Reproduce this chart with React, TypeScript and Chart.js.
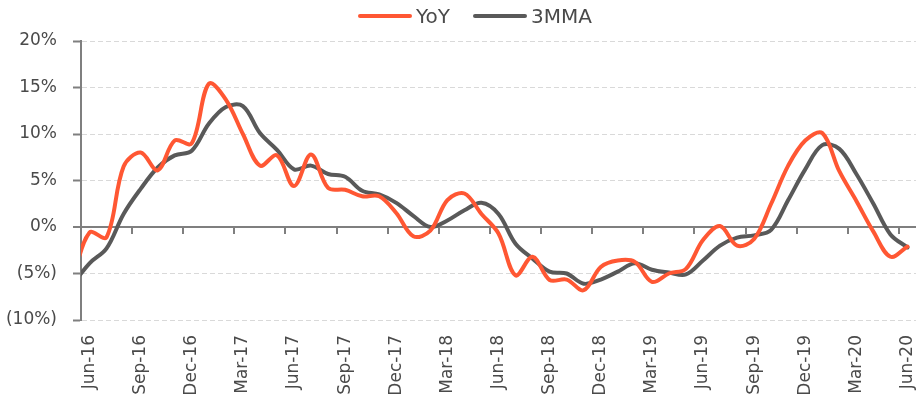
import React, { useEffect, useRef } from 'react';
import { Chart, registerables } from 'chart.js';

Chart.register(...registerables);

// Months: May-16 is a lead-in month drawn only as the clipped segment at the left edge
const months = [
  'May-16', 'Jun-16', 'Jul-16', 'Aug-16', 'Sep-16', 'Oct-16', 'Nov-16', 'Dec-16',
  'Jan-17', 'Feb-17', 'Mar-17', 'Apr-17', 'May-17', 'Jun-17', 'Jul-17', 'Aug-17',
  'Sep-17', 'Oct-17', 'Nov-17', 'Dec-17', 'Jan-18', 'Feb-18', 'Mar-18', 'Apr-18',
  'May-18', 'Jun-18', 'Jul-18', 'Aug-18', 'Sep-18', 'Oct-18', 'Nov-18', 'Dec-18',
  'Jan-19', 'Feb-19', 'Mar-19', 'Apr-19', 'May-19', 'Jun-19', 'Jul-19', 'Aug-19',
  'Sep-19', 'Oct-19', 'Nov-19', 'Dec-19', 'Jan-20', 'Feb-20', 'Mar-20', 'Apr-20',
  'May-20', 'Jun-20',
];
const firstLabelled = 'Jun-16';

const yoy = [
  -5.6, -0.6, -1.1, 6.5, 8.0, 6.1, 9.3, 9.0,
  15.4, 13.7, 10.0, 6.6, 7.7, 4.4, 7.8, 4.2,
  4.0, 3.3, 3.3, 1.5, -1.0, -0.4, 2.9, 3.6,
  1.4, -0.7, -5.2, -3.2, -5.7, -5.65, -6.8, -4.3,
  -3.6, -3.75, -5.9, -5.0, -4.5, -1.4, 0.1, -2.0,
  -1.3, 2.5, 6.6, 9.3, 10.1, 6.0, 2.8, -0.5,
  -3.2, -2.1,
];

const mma3 = [
  -6.2, -3.9, -2.3, 1.4, 4.1, 6.4, 7.7, 8.2,
  11.1, 12.9, 13.0, 10.1, 8.3, 6.2, 6.6, 5.7,
  5.4, 3.9, 3.5, 2.6, 1.2, 0.0, 0.7, 1.8,
  2.6, 1.4, -1.8, -3.4, -4.8, -5.0, -6.1, -5.65,
  -4.8, -3.9, -4.6, -4.9, -5.1, -3.6, -2.0, -1.15,
  -0.9, -0.3, 2.9, 6.2, 8.8, 8.4, 5.7, 2.5,
  -0.8, -2.2,
];

const seriesNames = ['YoY', '3MMA'];
const seriesColors = ['#FF5733', '#595959'];

const yMin = -10;
const yMax = 20;
const yStep = 5;
const xLabelEvery = 3;

const AXIS = '#7F7F7F';
const GRID = '#D9D9D9';
const TEXT = '#4A4A4A';
const FONT = '"DejaVu Sans", sans-serif';

const formatPct = (v: number) => (v < 0 ? `(${-v}%)` : `${v}%`);

const boundaryMarks = {
  id: 'boundaryMarks',
  beforeDatasetsDraw(chart: any) {
    const { ctx, scales } = chart;
    const x = scales.x;
    const y = scales.y;
    const y0 = y.getPixelForValue(0);
    ctx.save();
    ctx.strokeStyle = AXIS;
    ctx.lineWidth = 2;
    ctx.beginPath();
    x.ticks.forEach((t: any, i: number) => {
      if (i === 0) return;
      const px = Math.round(x.getPixelForValue(t.value - 0.5));
      ctx.moveTo(px, y0);
      ctx.lineTo(px, y0 + 7);
    });
    ctx.stroke();
    ctx.restore();
  },
};

export default function App() {
  const ref = useRef<HTMLCanvasElement | null>(null);

  useEffect(() => {
    if (!ref.current) return;
    const offset = months.indexOf(firstLabelled);
    const toPoints = (vals: number[]) => vals.map((v, i) => ({ x: i - offset, y: v }));

    const chart = new Chart(ref.current, {
      type: 'line',
      data: {
        datasets: [
          {
            label: seriesNames[0],
            data: toPoints(yoy),
            borderColor: seriesColors[0],
            backgroundColor: seriesColors[0],
            borderWidth: 4,
            pointRadius: 0,
            tension: 0.35,
            borderCapStyle: 'round',
            borderJoinStyle: 'round',
          },
          {
            label: seriesNames[1],
            data: toPoints(mma3),
            borderColor: seriesColors[1],
            backgroundColor: seriesColors[1],
            borderWidth: 4,
            pointRadius: 0,
            tension: 0.35,
            borderCapStyle: 'round',
            borderJoinStyle: 'round',
          },
        ],
      },
      options: {
        animation: false,
        responsive: false,
        events: [],
        layout: { padding: { top: 41, right: 1, left: 0, bottom: 0 } },
        plugins: {
          legend: { display: false },
          tooltip: { enabled: false },
        },
        scales: {
          x: {
            type: 'linear',
            min: -0.5,
            max: months.length - offset - 0.5,
            grid: { display: false, drawTicks: false },
            border: { display: false },
            ticks: {
              stepSize: xLabelEvery,
              includeBounds: false,
              autoSkip: false,
              maxRotation: 90,
              minRotation: 90,
              padding: 15,
              color: TEXT,
              font: { family: FONT, size: 17 },
              callback: (v: any) => {
                const idx = Number(v) + offset;
                return Number.isInteger(Number(v)) && months[idx] ? months[idx] : '';
              },
            },
            afterFit: (s: any) => {
              s.height = 88;
              s.paddingLeft = 0;
              s.paddingRight = 0;
            },
          },
          y: {
            min: yMin,
            max: yMax,
            ticks: {
              stepSize: yStep,
              padding: 16,
              color: TEXT,
              font: { family: FONT, size: 17 },
              callback: (v: any) => formatPct(Number(v)),
            },
            grid: {
              color: (c: any) => (c.tick && c.tick.value === 0 ? AXIS : GRID),
              lineWidth: (c: any) => (c.tick && c.tick.value === 0 ? 2 : 1),
              tickColor: AXIS,
              tickWidth: 2,
              tickLength: 8,
            },
            border: {
              display: true,
              color: AXIS,
              width: 2,
              dash: (c: any) => (c.tick && c.tick.value === 0 ? [] : [5, 3]),
            },
            afterFit: (s: any) => {
              s.width = 81;
            },
          },
        },
      },
      plugins: [boundaryMarks],
    } as any);

    return () => chart.destroy();
  }, []);

  return (
    <div style={{ position: 'absolute', left: 0, top: 0, width: 917, height: 408, background: '#fff' }}>
      <canvas ref={ref} width={917} height={408} style={{ display: 'block' }} />
      <div
        style={{
          position: 'absolute',
          top: 4,
          left: 358,
          display: 'flex',
          alignItems: 'center',
          fontFamily: FONT,
          fontSize: 20,
          lineHeight: '24px',
          color: TEXT,
          whiteSpace: 'nowrap',
        }}
      >
        {seriesNames.map((name, i) => (
          <React.Fragment key={name}>
            <span
              style={{
                display: 'inline-block',
                width: 54,
                height: 4,
                borderRadius: 2,
                background: seriesColors[i],
                marginLeft: i === 0 ? 0 : 23,
                marginRight: 4,
              }}
            />
            <span>{name}</span>
          </React.Fragment>
        ))}
      </div>
    </div>
  );
}
